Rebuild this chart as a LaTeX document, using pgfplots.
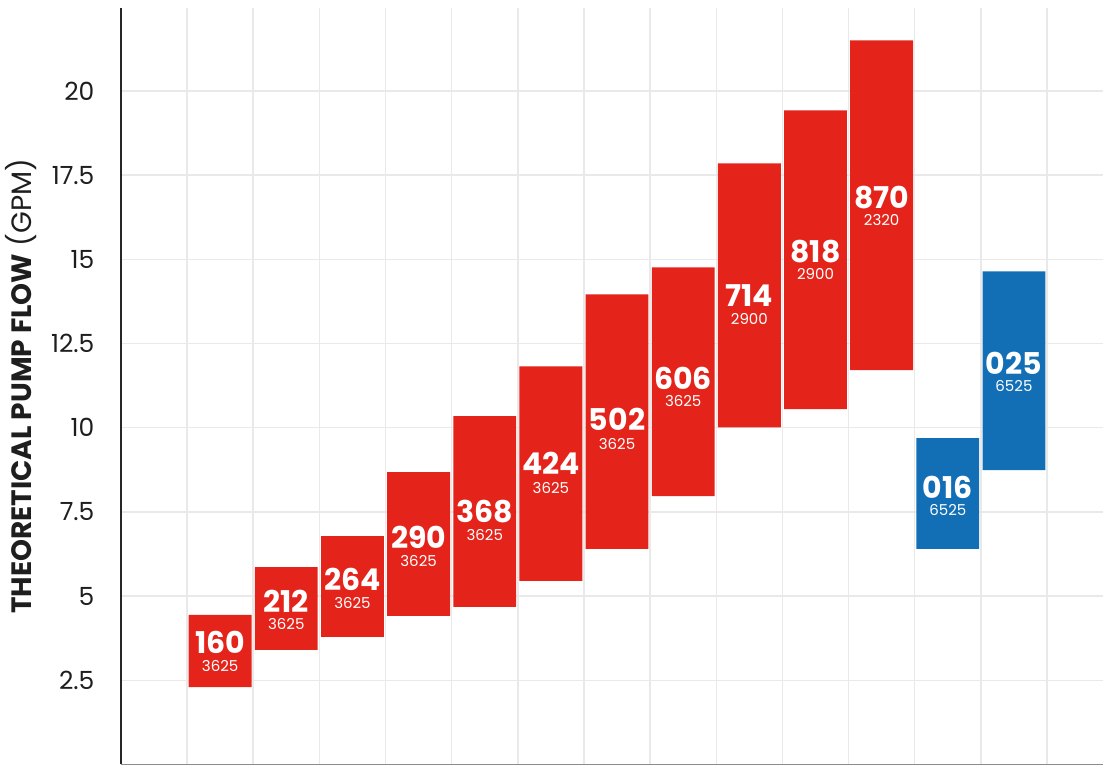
\documentclass[border=0pt]{standalone}
\usepackage{pgfplots}
\pgfplotsset{compat=1.18}
\usepackage{pgfplotstable}
\usepackage{fontspec}
\setmainfont{Poppins}
\definecolor{pumpred}{RGB}{228,36,27}
\definecolor{pumpblue}{RGB}{18,111,182}
\definecolor{gridgray}{RGB}{233,233,233}
\definecolor{ticktext}{RGB}{30,30,30}

% x = slot centre, lo = bottom of bar, red/blue = bar height, yb/ys = label rows
\pgfplotstableread{
x    lo     red    blue   yb     ys     name  psi
1.5  2.30   2.14   0      3.63   2.92   160   3625
2.5  3.40   2.46   0      4.85   4.17   212   3625
3.5  3.79   2.99   0      5.50   4.79   264   3625
4.5  4.41   4.27   0      6.75   6.04   290   3625
5.5  4.68   5.66   0      7.52   6.81   368   3625
6.5  5.45   6.37   0      8.94   8.21   424   3625
7.5  6.40   7.56   0      10.25  9.51   502   3625
8.5  7.97   6.79   0      11.46  10.78  606   3625
9.5  10.01  7.84   0      13.93  13.22  714   2900
10.5 10.55  8.87   0      15.23  14.55  818   2900
11.5 11.71  9.79   0      16.84  16.16  870   2320
12.5 6.40   0      3.29   8.23   7.55   016   6525
13.5 8.74   0      5.90   11.91  11.23  025   6525
}\pumpdata

\pgfplotsset{pumpbox/.style={
    scale only axis,
    width=983pt, height=757pt,
    xmin=0, xmax=14.85,
    ymin=0, ymax=22.46,
}}

\begin{document}
\begin{tikzpicture}
\begin{axis}[
    pumpbox,
    ybar stacked,
    bar width=0.95,
    axis x line*=bottom,
    axis y line*=left,
    axis line style={-},
    x axis line style={draw=black!45, line width=1.2pt},
    y axis line style={draw=black!85, line width=1.5pt},
    xtick={1,2,...,14},
    xticklabels={},
    ytick={2.5,5,7.5,10,12.5,15,17.5,20},
    major tick length=0pt,
    grid=major,
    major grid style={draw=gridgray, line width=1.5pt},
    /pgf/number format/assume math mode=true,
    yticklabel style={font=\fontsize{25}{25}\selectfont, text=ticktext, xshift=-23pt},
    ylabel={\textbf{THEORETICAL PUMP FLOW} (GPM)},
    ylabel style={at={(axis description cs:-0.102,0.5)}, anchor=center,
        font=\fontsize{28}{28}\selectfont, text=ticktext},
    clip=false,
]
\addplot[draw=none, fill=none] table[x=x, y=lo] {\pumpdata};
\addplot[draw=none, fill=pumpred] table[x=x, y=red] {\pumpdata};
\addplot[draw=none, fill=pumpblue] table[x=x, y=blue] {\pumpdata};
\end{axis}
% labels in an overlaid axis, so they are not stacked
\begin{axis}[pumpbox, hide axis, clip=false]
\addplot[only marks, mark=none,
    nodes near coords, point meta=explicit symbolic,
    nodes near coords style={anchor=center, text=white, inner sep=0pt,
        font=\fontsize{30}{30}\selectfont\bfseries}]
    table[x=x, y=yb, meta=name] {\pumpdata};
\addplot[only marks, mark=none,
    nodes near coords, point meta=explicit symbolic,
    nodes near coords style={anchor=center, text=white, inner sep=0pt,
        font=\fontsize{15}{15}\selectfont}]
    table[x=x, y=ys, meta=psi] {\pumpdata};
\end{axis}
\path (current axis.south west) ++(-121pt,0pt) rectangle ++(1104pt,765pt);
\end{tikzpicture}
\end{document}
